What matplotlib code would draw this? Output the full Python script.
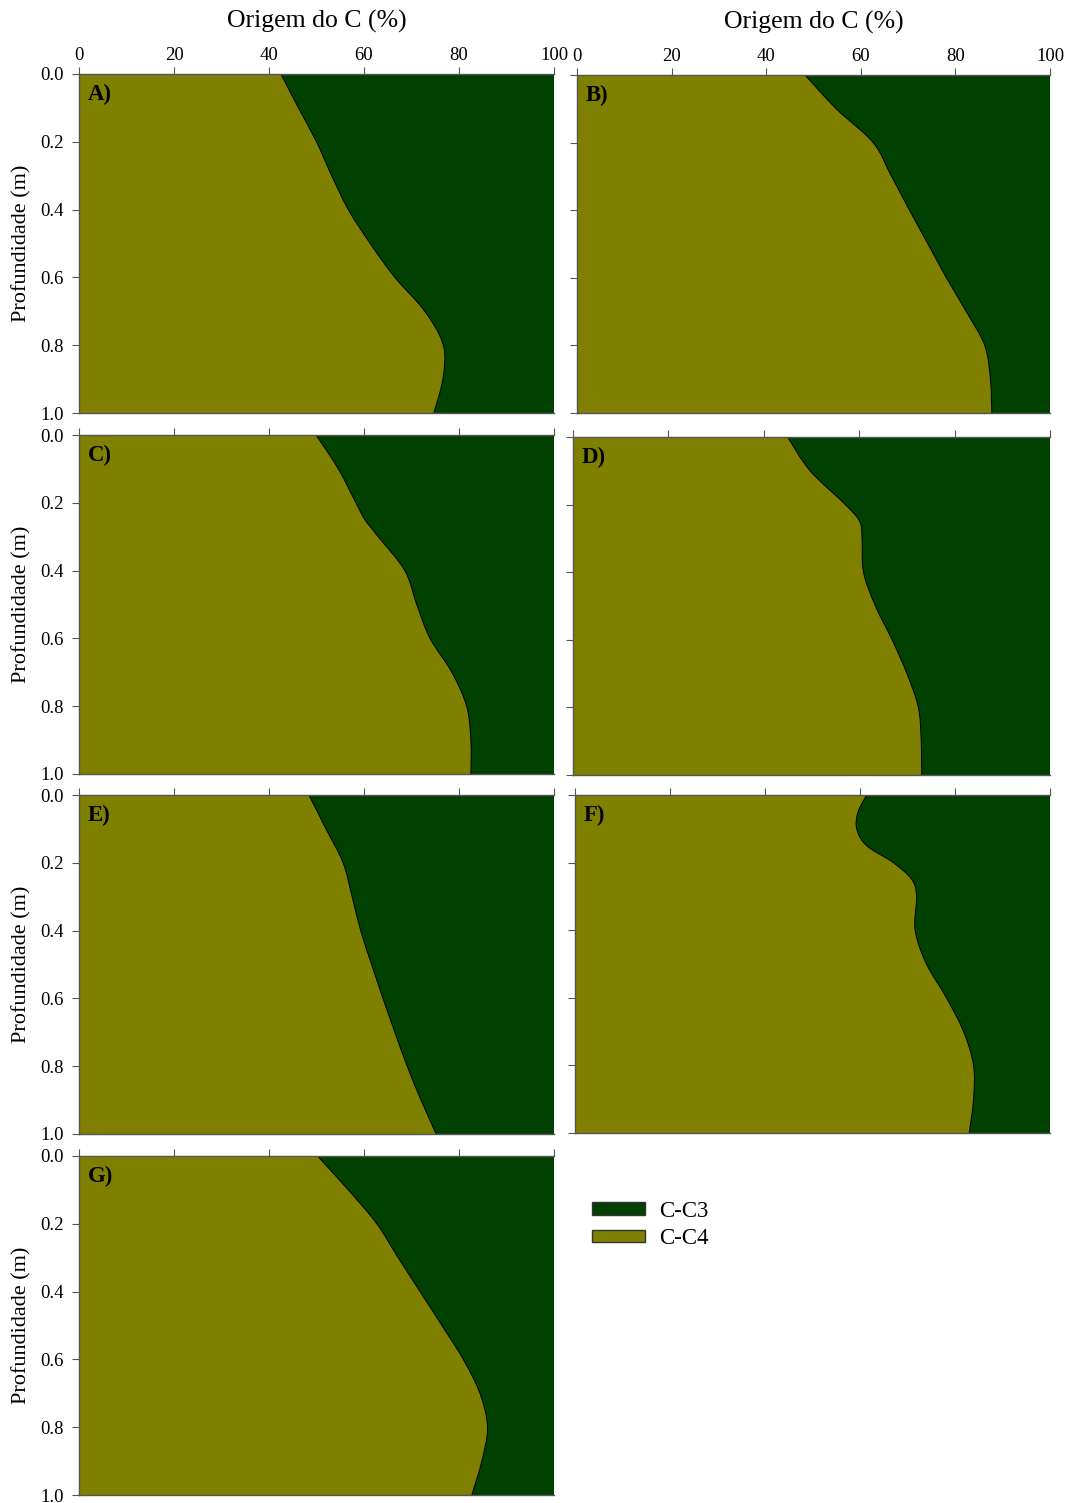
import matplotlib
matplotlib.use("Agg")
import matplotlib.pyplot as plt
from matplotlib.patches import Patch, PathPatch, Rectangle
from matplotlib.path import Path

plt.rcParams["font.family"] = ["Liberation Serif", "DejaVu Serif"]

# Profundidade (m)
depth = [0.0, 0.1, 0.2, 0.3, 0.4, 0.5, 0.6, 0.7, 0.8, 0.9, 1.0]

# C-C4 share (%) at each depth, per panel
c4_a = [42.5, 46.2, 50.0, 53.2, 56.7, 61.3, 66.5, 72.8, 76.7, 76.6, 74.7]
c4_b = [48.2, 54.8, 62.6, 66.5, 70.3, 74.2, 78.1, 82.3, 86.2, 87.4, 87.7]
c4_e = [48.4, 52.0, 55.6, 57.5, 59.3, 61.6, 64.0, 66.5, 69.1, 72.0, 75.2]
c4_g = [50.2, 56.7, 62.7, 67.2, 71.8, 76.4, 80.9, 84.4, 86.0, 84.8, 82.7]

# panels with sharper bends, read at finer depth steps
depth_c = [0.0, 0.1, 0.2, 0.25, 0.3, 0.4, 0.5, 0.6, 0.7, 0.8, 0.9, 1.0]
c4_c = [49.9, 54.6, 58.3, 60.2, 63.0, 68.6, 71.1, 73.9, 78.5, 81.6, 82.5, 82.5]
depth_d = [0.0, 0.1, 0.2, 0.25, 0.3, 0.4, 0.5, 0.6, 0.7, 0.8, 0.9, 1.0]
c4_d = [45.0, 49.7, 57.1, 60.1, 60.6, 60.9, 63.4, 66.9, 70.0, 72.4, 73.0, 73.1]
depth_f = [0.0, 0.05, 0.1, 0.15, 0.2, 0.25, 0.3, 0.4, 0.5, 0.6, 0.7, 0.8, 0.9, 1.0]
c4_f = [61.4, 59.6, 59.3, 61.4, 67.0, 70.9, 71.9, 71.6, 74.0, 78.2, 81.8, 83.9, 83.9, 83.0]

C3_COLOR = "#004000"
C4_COLOR = "#808000"
W, H = 1069, 1503

# (label, depths, c4 values, left, right, top, bottom in pixels, top labels, y labels)
panels = [
    ("A)", depth, c4_a, 79, 554, 74, 413, True, True),
    ("B)", depth, c4_b, 577, 1050, 75, 413, True, False),
    ("C)", depth_c, c4_c, 79, 554, 435, 774, False, True),
    ("D)", depth_d, c4_d, 573, 1050, 437, 775, False, False),
    ("E)", depth, c4_e, 79, 554, 795, 1134, False, True),
    ("F)", depth_f, c4_f, 575, 1050, 795, 1133, False, False),
    ("G)", depth, c4_g, 79, 554, 1156, 1495, False, True),
]


# smooth curve through the points (Catmull-Rom drawn as cubic Bezier)
def spline_segments(xs, ys):
    pts = list(zip(xs, ys))
    n = len(pts)
    verts, codes = [], []
    for i in range(n - 1):
        p0 = pts[max(i - 1, 0)]
        p1 = pts[i]
        p2 = pts[i + 1]
        p3 = pts[min(i + 2, n - 1)]
        c1 = (p1[0] + (p2[0] - p0[0]) / 6, p1[1] + (p2[1] - p0[1]) / 6)
        c2 = (p2[0] - (p3[0] - p1[0]) / 6, p2[1] - (p3[1] - p1[1]) / 6)
        verts += [c1, c2, p2]
        codes += [Path.CURVE4] * 3
    return verts, codes


fig = plt.figure(figsize=(W / 100, H / 100), dpi=100)

for label, d, c4, x0, x1, y0, y1, top_labels, y_labels in panels:
    ax = fig.add_axes([x0 / W, 1 - y1 / H, (x1 - x0) / W, (y1 - y0) / H])
    sv, sc = spline_segments(c4, d)

    ax.add_patch(Rectangle((0, 0), 100, 1, facecolor=C3_COLOR, lw=0))
    c4_path = Path([(0, d[0]), (c4[0], d[0])] + sv + [(0, d[-1]), (0, d[0])],
                   [Path.MOVETO, Path.LINETO] + sc + [Path.LINETO, Path.CLOSEPOLY])
    ax.add_patch(PathPatch(c4_path, facecolor=C4_COLOR, lw=0))
    line_path = Path([(c4[0], d[0])] + sv, [Path.MOVETO] + sc)
    ax.add_patch(PathPatch(line_path, fill=False, edgecolor="black", lw=0.7))

    ax.set_xlim(0, 100)
    ax.set_ylim(1.0, 0.0)
    ax.set_xticks([0, 20, 40, 60, 80, 100])
    ax.set_yticks([0.0, 0.2, 0.4, 0.6, 0.8, 1.0])
    ax.xaxis.tick_top()
    ax.tick_params(axis="both", direction="out", length=5, width=0.8,
                   color="#555555", labelsize=13.5, pad=2)
    ax.tick_params(axis="y", pad=6)
    ax.tick_params(axis="x", labeltop=top_labels)
    ax.tick_params(axis="y", labelleft=y_labels)
    ax.set_yticklabels(["0.0", "0.2", "0.4", "0.6", "0.8", "1.0"])
    for side in ["left", "top", "bottom"]:
        ax.spines[side].set_color("#555555")
        ax.spines[side].set_linewidth(1.0)
    ax.spines["right"].set_visible(False)
    ax.text(0.018, 0.94, label, transform=ax.transAxes, fontsize=16.5,
            fontweight="bold", va="center", ha="left")
    if top_labels:
        ax.xaxis.set_label_position("top")
        ax.set_xlabel("Origem do C (%)", fontsize=18.5, labelpad=14)
    if y_labels:
        ax.set_ylabel("Profundidade (m)", fontsize=16, labelpad=6)

handles = [
    Patch(facecolor=C3_COLOR, edgecolor="#333333", label="C-C3"),
    Patch(facecolor=C4_COLOR, edgecolor="#333333", label="C-C4"),
]
fig.legend(handles=handles, loc="upper left", bbox_to_anchor=(571 / W, 1 - 1180 / H),
           frameon=False, fontsize=16.5, handlelength=2.35, handleheight=0.45,
           labelspacing=0.28, handletextpad=0.6)

fig.savefig("out.png", dpi=100)
